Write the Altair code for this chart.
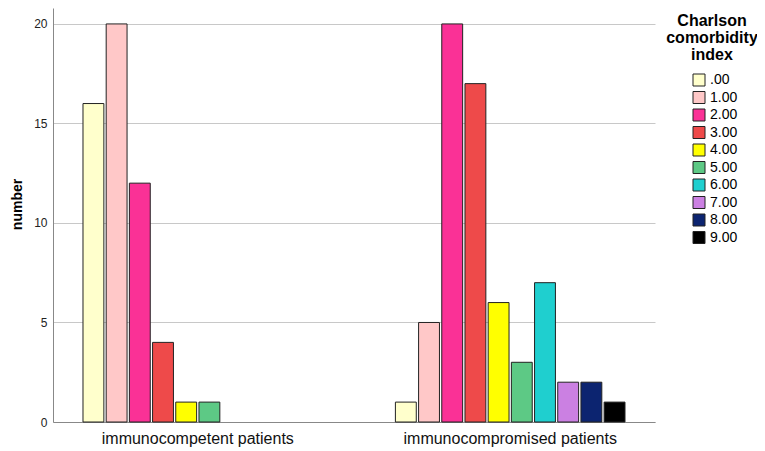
import altair as alt
import pandas as pd

groups = ["immunocompetent patients", "immunocompromised patients"]
categories = [".00", "1.00", "2.00", "3.00", "4.00", "5.00", "6.00", "7.00", "8.00", "9.00"]
colors = ["#FFFFCC", "#FFC8C8", "#FA3196", "#EE4A4A", "#FFFF00",
          "#5DC985", "#1FCFCF", "#CB80E2", "#0C2470", "#000000"]
competent = [16, 20, 12, 4, 1, 1]
compromised = [1, 5, 20, 17, 6, 3, 7, 2, 2, 1]

rows = []
for c, v in zip(categories, competent):
    rows.append({"group": groups[0], "cci": c, "number": v})
for c, v in zip(categories, compromised):
    rows.append({"group": groups[1], "cci": c, "number": v})
df = pd.DataFrame(rows)

FONT = "Liberation Sans"

chart = alt.Chart(df).mark_bar(stroke="#222222", strokeWidth=1).encode(
    x=alt.X("group:N", sort=groups, title=None,
            scale=alt.Scale(paddingInner=0.265, paddingOuter=0.096),
            axis=alt.Axis(labelAngle=0, ticks=False, labelFontSize=16, labelFont=FONT,
                          labelColor="#111111", labelPadding=8, labelLimit=400,
                          domainColor="#888888", grid=False)),
    xOffset=alt.XOffset("cci:N", sort=categories,
                        scale=alt.Scale(domain=categories, paddingInner=0.1, paddingOuter=0)),
    y=alt.Y("number:Q", title="number",
            scale=alt.Scale(domain=[0, 20.8], nice=False),
            axis=alt.Axis(values=[0, 5, 10, 15, 20], ticks=False, labelFontSize=12,
                          labelFont=FONT, labelColor="#222222", labelPadding=6,
                          titleFont=FONT, titleFontSize=14, titleFontWeight="bold",
                          titleColor="#000000", titlePadding=9, titleY=196,
                          domainColor="#888888", gridColor="#C8C8C8")),
    color=alt.Color("cci:N", sort=categories,
                    scale=alt.Scale(domain=categories, range=colors),
                    legend=alt.Legend(
                        title=["Charlson", "comorbidity", "index"],
                        orient="none", legendX=613, legendY=5,
                        titleFont=FONT, titleFontSize=16, titleFontWeight="bold",
                        titleColor="#000000", titleAlign="center", titleAnchor="middle",
                        titleLineHeight=17, titlePadding=10,
                        labelFont=FONT, labelFontSize=14, labelColor="#000000",
                        labelOffset=4, symbolType="square", symbolSize=144,
                        symbolStrokeColor="#222222", symbolStrokeWidth=1,
                        symbolOffset=6, rowPadding=1.5)),
).properties(
    width=602, height=414,
    autosize=alt.AutoSizeParams(type="none"),
    padding={"left": 45, "top": 0, "right": 102, "bottom": 29},
).configure_view(stroke=None)

chart.save("out.html", embed_options={"renderer": "svg", "actions": False})
